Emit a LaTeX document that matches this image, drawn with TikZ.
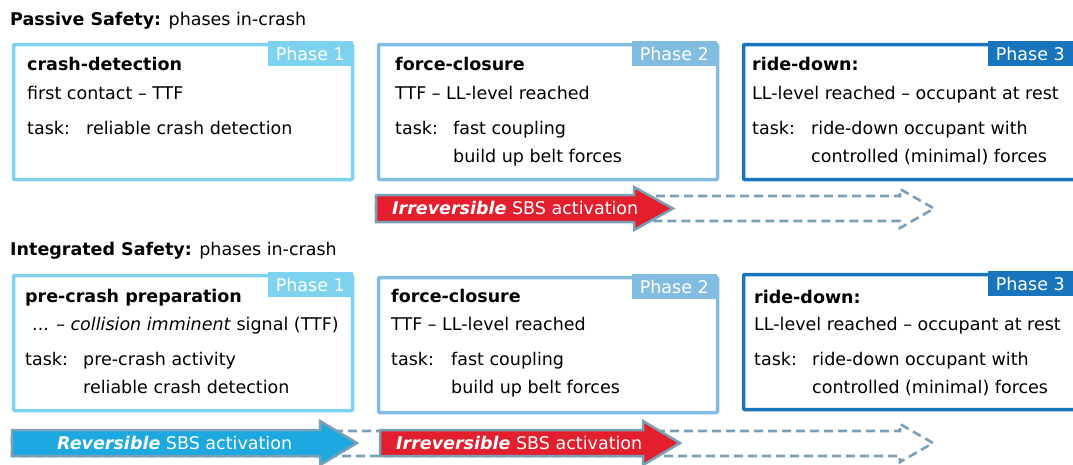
\documentclass[tikz,border=0pt]{standalone}
\usepackage{fontspec}
\setmainfont{DejaVu Sans}
\definecolor{cA}{HTML}{7DD2F0}
\definecolor{cB}{HTML}{82BCE1}
\definecolor{cC}{HTML}{1875BD}
\definecolor{arrRed}{HTML}{E31E2D}
\definecolor{arrBlue}{HTML}{1EA8E0}
\definecolor{arrEdge}{HTML}{7AA0B8}
\begin{document}
\begin{tikzpicture}[x=1pt,y=-1pt,
  txt/.style={anchor=base west, inner sep=0pt, font=\fontsize{17.5}{20}\selectfont, text=black},
  ttl/.style={anchor=base west, inner sep=0pt, font=\fontsize{17.5}{20}\selectfont},
  phasebox/.style={draw, line width=3.5pt, rounded corners=1pt, anchor=north west, inner sep=0pt, minimum width=339, minimum height=135},
  lab/.style={anchor=north east, inner sep=0pt, minimum width=85, minimum height=25, text=white, font=\fontsize{17.5}{20}\selectfont},
  arrtxt/.style={anchor=base west, inner sep=0pt, text=white, font=\fontsize{17.5}{20}\selectfont},
  solidarrow/.style={draw=arrEdge, line width=2.5pt, line join=miter},
  dasharrow/.style={draw=arrEdge, line width=2.6pt, dash pattern=on 9pt off 5pt}
]
\useasboundingbox (0,0) rectangle (1073,464);
% ---------- Passive safety ----------
\node[ttl] (t1) at (10,25) {\textbf{Passive Safety:} phases in-crash};

\node[phasebox, draw=cA] (a1) at (11.75,42.75) {};
\node[lab, fill=cA] (a1l) at (353,41) {Phase 1};
\node[txt] (a1h) at (27,70.5) {\textbf{crash-detection}};
\node[txt] (a1s) at (27,99.5) {first contact -- TTF};
\node[txt] (a1t) at (27,134) {task:};
\node[txt] (a1u) at (86,134) {reliable crash detection};

\node[phasebox, draw=cB] (a2) at (376.75,42.75) {};
\node[lab, fill=cB] (a2l) at (717,41) {Phase 2};
\node[txt] (a2h) at (395,70.5) {\textbf{force-closure}};
\node[txt] (a2s) at (395,99) {TTF -- LL-level reached};
\node[txt] (a2t) at (395,134) {task:};
\node[txt] (a2u) at (453,134) {fast coupling};
\node[txt] (a2v) at (453,162) {build up belt forces};

\node[phasebox, draw=cC] (a3) at (741.75,42.75) {};
\node[lab, fill=cC] (a3l) at (1073,41) {Phase 3};
\node[txt] (a3h) at (752,70.5) {\textbf{ride-down:}};
\node[txt] (a3s) at (752,99) {LL-level reached -- occupant at rest};
\node[txt] (a3t) at (752,134) {task:};
\node[txt] (a3u) at (811,134) {ride-down occupant with};
\node[txt] (a3v) at (811,162) {controlled (minimal) forces};

\draw[dasharrow] (376,196) -- (900,196) -- (900,189) -- (934,208.5) -- (900,228) -- (900,221) -- (376,221) -- cycle;
\draw[solidarrow, fill=arrRed] (376,195) -- (634,195) -- (634,187) -- (673,208.5) -- (634,230) -- (634,222) -- (376,222) -- cycle;
\node[arrtxt] (r1) at (392,214.5) {\textbf{\itshape Irreversible} SBS activation};

% ---------- Integrated safety ----------
\node[ttl] (t2) at (10,255) {\textbf{Integrated Safety:} phases in-crash};

\node[phasebox, draw=cA] (b1) at (11.75,273.75) {};
\node[lab, fill=cA] (b1l) at (353,272) {Phase 1};
\node[txt] (b1h) at (25,302) {\textbf{pre-crash preparation}};
\node[txt] (b1s) at (32,330.5) {... -- \textit{collision imminent} signal (TTF)};
\node[txt] (b1t) at (25,365) {task:};
\node[txt] (b1u) at (83,365) {pre-crash activity};
\node[txt] (b1v) at (83,393) {reliable crash detection};

\node[phasebox, draw=cB] (b2) at (376.75,275.75) {};
\node[lab, fill=cB] (b2l) at (717,274) {Phase 2};
\node[txt] (b2h) at (391,302) {\textbf{force-closure}};
\node[txt] (b2s) at (391,330.5) {TTF -- LL-level reached};
\node[txt] (b2t) at (391,365) {task:};
\node[txt] (b2u) at (451,365) {fast coupling};
\node[txt] (b2v) at (451,393) {build up belt forces};

\node[phasebox, draw=cC] (b3) at (741.75,272.75) {};
\node[lab, fill=cC] (b3l) at (1073,271) {Phase 3};
\node[txt] (b3h) at (754,303) {\textbf{ride-down:}};
\node[txt] (b3s) at (754,330.5) {LL-level reached -- occupant at rest};
\node[txt] (b3t) at (754,365) {task:};
\node[txt] (b3u) at (812,365) {ride-down occupant with};
\node[txt] (b3v) at (812,393) {controlled (minimal) forces};

\draw[dasharrow] (12,431) -- (900,431) -- (900,424) -- (933,443) -- (900,462) -- (900,456) -- (12,456) -- cycle;
\draw[solidarrow, fill=arrBlue] (12,430) -- (320,430) -- (320,421) -- (357,443) -- (320,465) -- (320,456) -- (12,456) -- cycle;
\draw[solidarrow, fill=arrRed] (380,430) -- (643,430) -- (643,421) -- (680,443) -- (643,465) -- (643,456) -- (380,456) -- cycle;
\node[arrtxt] (r2) at (57,449) {\textbf{\itshape Reversible} SBS activation};
\node[arrtxt] (r3) at (396,449) {\textbf{\itshape Irreversible} SBS activation};
\end{tikzpicture}
\end{document}
